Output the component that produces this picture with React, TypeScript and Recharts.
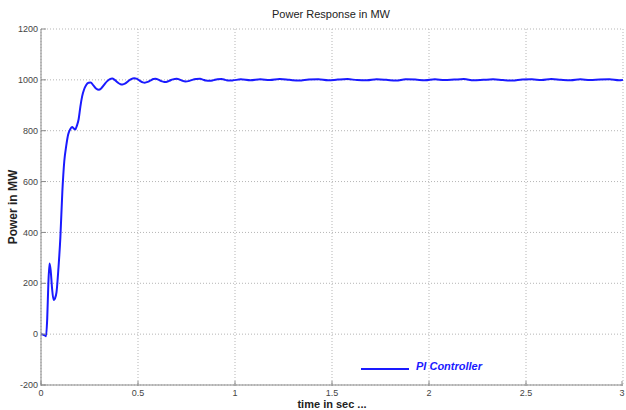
import React from "react"
import { LineChart, Line, XAxis, YAxis, CartesianGrid } from "recharts"

// time axis (s) and power response (MW)
const timeSec = [
  0, 0.01, 0.02, 0.026, 0.032, 0.038, 0.044, 0.05, 0.057, 0.065, 0.072, 0.08, 0.09, 0.1, 0.11, 0.12, 0.13,
  0.14, 0.15, 0.16, 0.17, 0.177, 0.185, 0.194, 0.203, 0.212, 0.222, 0.233, 0.245, 0.256, 0.27, 0.285, 0.298,
  0.31, 0.325, 0.34, 0.355, 0.367, 0.38, 0.395, 0.41, 0.42, 0.435, 0.45, 0.465, 0.48, 0.495, 0.51, 0.525,
  0.535, 0.55, 0.565, 0.58, 0.59, 0.605, 0.62, 0.635, 0.645, 0.66, 0.68, 0.7, 0.715, 0.73, 0.745, 0.76, 0.78,
  0.8, 0.82, 0.835, 0.85, 0.87, 0.89, 0.91, 0.93, 0.95, 0.97, 0.99,
  1.03, 1.08, 1.13, 1.18, 1.23, 1.28, 1.33, 1.38, 1.43, 1.48, 1.53, 1.58, 1.63, 1.68, 1.73, 1.78, 1.83, 1.88,
  1.93, 1.98, 2.03, 2.08, 2.13, 2.18, 2.23, 2.28, 2.33, 2.38, 2.43, 2.48, 2.53, 2.58, 2.63, 2.68, 2.73, 2.78,
  2.83, 2.88, 2.93, 2.98, 3.0,
]
const powerMW = [
  0, -2, -5, -8, 60, 200, 278, 250, 180, 134, 140, 165, 260, 383, 560, 680, 740,
  785, 805, 815, 808, 805, 820, 845, 895, 935, 962, 980, 989, 990, 978, 965, 961,
  966, 980, 994, 1003, 1005, 1000, 990, 983, 982, 986, 995, 1003, 1006, 1004, 996, 990,
  989, 992, 998, 1003, 1004, 1001, 995, 992, 992, 996, 1002, 1004, 1001, 996, 994, 995, 1000,
  1003, 1004, 1001, 997, 996, 999, 1002, 1003, 1000, 997, 998,
  1002, 998, 1002, 999, 1003, 1000, 997, 1001, 1002, 998, 1001, 1003, 999, 998, 1002, 1000, 997, 1002,
  1001, 998, 1002, 999, 1001, 1003, 998, 1000, 1002, 999, 997, 1001, 1002, 999, 1003, 1000, 998, 1002,
  999, 1001, 1002, 998, 1000,
]
const xTicks = [0, 0.5, 1, 1.5, 2, 2.5, 3]
const yTicks = [-200, 0, 200, 400, 600, 800, 1000, 1200]

const data = timeSec.map((t, i) => ({ t, p: powerMW[i] }))

const axisColor = "#8a8a8a"
const tickText = "#444"
const lineBlue = "#1a1aff"

function BottomTick(props: any) {
  const { x, y, payload } = props
  return (
    <g>
      <line x1={x} y1={y - 4} x2={x} y2={y - 9} stroke={axisColor} />
      <text x={x} y={y} dy="0.71em" textAnchor="middle" fontSize={9} fill={tickText}>
        {payload.value}
      </text>
    </g>
  )
}

function TopTick(props: any) {
  const { x, y } = props
  return <line x1={x} y1={y} x2={x} y2={y + 5} stroke={axisColor} />
}

function LeftTick(props: any) {
  const { x, y, payload } = props
  return (
    <g>
      <line x1={x + 3} y1={y} x2={x + 8} y2={y} stroke={axisColor} />
      <text x={x} y={y} dy="0.35em" textAnchor="end" fontSize={9} fill={tickText}>
        {payload.value}
      </text>
    </g>
  )
}

function RightTick(props: any) {
  const { x, y } = props
  return <line x1={x} y1={y} x2={x - 5} y2={y} stroke={axisColor} />
}

export default function App() {
  return (
    <div
      style={{
        position: "absolute",
        left: 0,
        top: 0,
        width: 626,
        height: 410,
        background: "#fff",
        overflow: "hidden",
        fontFamily: "Liberation Sans, Arial, sans-serif",
      }}
    >
      <div style={{ position: "absolute", left: 0, width: 626, top: 8, textAlign: "center", fontSize: 11, color: "#222", paddingLeft: 36, boxSizing: "border-box" }}>
        Power Response in MW
      </div>
      <LineChart width={626} height={410} data={data} margin={{ top: 29, right: 3, bottom: 0, left: 0 }}>
        <CartesianGrid stroke="#b5b5b5" strokeDasharray="1 2" horizontalValues={yTicks} verticalValues={xTicks} />
        <XAxis
          dataKey="t"
          type="number"
          domain={[0, 3]}
          ticks={xTicks}
          height={25}
          stroke={axisColor}
          tickLine={false}
          tickSize={0}
          tickMargin={5}
          tick={<BottomTick />}
          label={{ value: "time in sec ...", position: "insideBottom", offset: 2, fontSize: 11, fontWeight: "bold", fill: "#222" }}
        />
        <XAxis xAxisId="top" orientation="top" dataKey="t" type="number" domain={[0, 3]} ticks={xTicks} height={0} stroke={axisColor} tickLine={false} tickSize={0} tick={<TopTick />} />
        <YAxis
          domain={[-200, 1200]}
          ticks={yTicks}
          width={41}
          stroke={axisColor}
          tickLine={false}
          tickSize={0}
          tickMargin={3}
          tick={<LeftTick />}
          label={{ value: "Power in MW", angle: -90, position: "insideLeft", offset: 13, fontSize: 12, fontWeight: "bold", fill: "#222", style: { textAnchor: "middle" } }}
        />
        <YAxis yAxisId="right" orientation="right" domain={[-200, 1200]} ticks={yTicks} width={0} stroke={axisColor} tickLine={false} tickSize={0} tick={<RightTick />} />
        <Line
          type="monotone"
          dataKey="p"
          stroke={lineBlue}
          strokeWidth={2}
          dot={false}
          isAnimationActive={false}
        />
      </LineChart>
      <div style={{ position: "absolute", left: 361, top: 360, display: "flex", alignItems: "center" }}>
        <div style={{ width: 48, height: 2, background: lineBlue, marginTop: 6 }} />
        <span style={{ marginLeft: 7, fontSize: 11, fontWeight: "bold", fontStyle: "italic", color: lineBlue }}>
          PI Controller
        </span>
      </div>
    </div>
  )
}
